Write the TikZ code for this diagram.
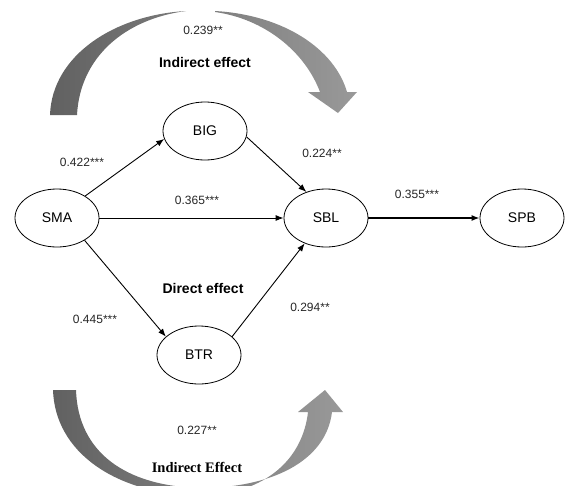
\documentclass[tikz,border=0pt]{standalone}
\usepackage{fontspec}
\setmainfont{Liberation Sans}
\newfontfamily\timesfont{Liberation Serif}
\usetikzlibrary{arrows.meta, shapes.geometric}

\begin{document}
\begin{tikzpicture}[x=1pt, y=-1pt,
    var/.style={draw, ellipse, line width=0.8pt, minimum width=84pt, minimum height=58pt, inner sep=0pt, font=\fontsize{14}{16}\selectfont},
    coef/.style={font=\fontsize{12}{14}\selectfont, text=black!85},
    effet/.style={font=\fontsize{14}{16}\selectfont\bfseries},
    link/.style={-{Latex[length=8pt, width=6pt]}, line width=0.9pt}]
    \useasboundingbox (0,0) rectangle (565,485);

    \shade[left color=black!62, right color=black!52] (50,115) .. controls (52,55) and (115,15) .. (186,11) .. controls (125,19) and (80,57) .. (77,115) -- cycle;
    \shade[left color=black!50, right color=black!40] (215,11) .. controls (285,15) and (335,50) .. (347,92) -- (357,92) -- (338,113) -- (308,92) -- (320,92) .. controls (305,52) and (265,19) .. (215,12) -- cycle;
    \shade[left color=black!62, right color=black!40] (53,390) .. controls (55,452) and (115,494) .. (200,496) .. controls (268,494) and (303,457) .. (308,412) -- (298,412) -- (325,390) -- (343,412) -- (332,412) .. controls (326,462) and (270,488) .. (200,488) .. controls (125,486) and (78,452) .. (76,390) -- cycle;

    \node[var] (SMA) at (57,218) {SMA};
    \node[var] (BIG) at (205,131) {BIG};
    \node[var] (SBL) at (326,218) {SBL};
    \node[var] (SPB) at (522,218) {SPB};
    \node[var] (BTR) at (199,355) {BTR};

    \draw[link] (SMA.38) -- (BIG.191);
    \draw[link] (BIG.-8) -- (SBL.127);
    \draw[link] (SMA.east) -- (SBL.west);
    \draw[link, line width=1.4pt] (SBL.east) -- (SPB.west);
    \draw[link] (SMA.-39) -- (BTR.151);
    \draw[link] (BTR.29) -- (SBL.230);

    \node[coef] (c239) at (203,30) {0.239**};
    \node[effet] (ie1) at (205,62) {Indirect effect};
    \node[coef] (c422) at (82,162) {0.422***};
    \node[coef] (c224) at (322,153) {0.224**};
    \node[coef] (c365) at (197,200) {0.365***};
    \node[coef] (c355) at (417,194) {0.355***};
    \node[effet] (de) at (203,288) {Direct effect};
    \node[coef] (c294) at (310,307) {0.294**};
    \node[coef] (c445) at (95,319) {0.445***};
    \node[coef] (c227) at (197,430) {0.227**};
    \node[font=\fontsize{14.5}{16}\selectfont\timesfont\bfseries] (ie2) at (197,467) {Indirect Effect};
\end{tikzpicture}
\end{document}
